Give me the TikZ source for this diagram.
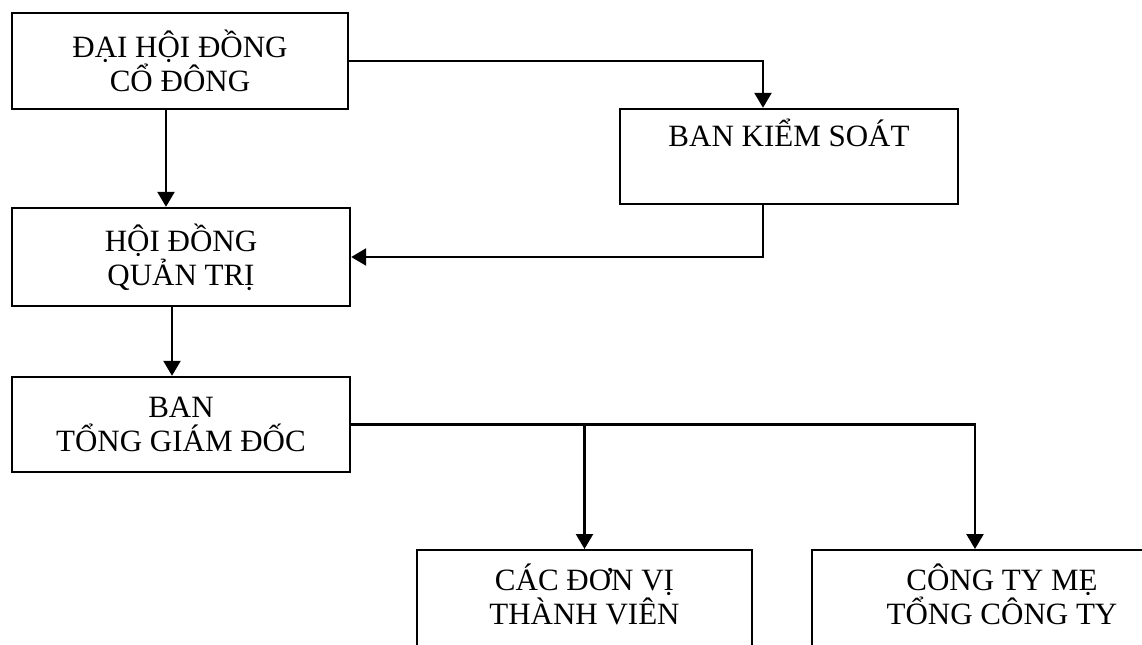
\documentclass[tikz,border=0pt]{standalone}
\usepackage{fontspec}
\setmainfont{Liberation Serif}
\usepackage{tikz}
\usetikzlibrary{arrows.meta, positioning, calc}

\begin{document}
\begin{tikzpicture}[
    x=0.5pt, y=-0.5pt,
    block/.style={rectangle, draw, line width=1.2pt, align=center, inner sep=0pt,
        font=\fontsize{15.5}{17}\selectfont},
    openblock/.style={block, anchor=north, inner ysep=7pt, text depth=70pt},
    arrow/.style={-{Triangle[length=7.5pt, width=8.5pt]}, line width=1.2pt}
]
    \useasboundingbox (0,0) rectangle (1142,644);
    \clip (0,0) rectangle (1142,644);

    % Main blocks
    \node[block, minimum width=168pt, minimum height=48pt] (dhcd) at (180,61) {ĐẠI HỘI ĐỒNG\\CỔ ĐÔNG};
    \node[block, minimum width=169pt, minimum height=47.5pt] (bks) at (789,156.5) {BAN KIỂM SOÁT\\[7pt]~};
    \node[block, minimum width=169pt, minimum height=49pt] (hdqt) at (181,257) {HỘI ĐỒNG\\QUẢN TRỊ};
    \node[block, minimum width=169pt, minimum height=47.5pt] (btgd) at (181,424.5) {BAN\\TỔNG GIÁM ĐỐC};
    \node[openblock, minimum width=167.5pt] (dvtv) at (584.5,549) {CÁC ĐƠN VỊ\\THÀNH VIÊN};
    \node[openblock, minimum width=190pt] (ctm) at (1002,549) {CÔNG TY MẸ\\TỔNG CÔNG TY};

    % Arrows
    \draw[arrow] ([xshift=-7pt]dhcd.south) -- ([xshift=-7pt]dhcd.south |- hdqt.north);
    \draw[arrow] (dhcd.east) -| ([xshift=-13pt]bks.north);
    \draw[arrow] ([xshift=-13pt]bks.south) |- (hdqt.east);
    \draw[arrow] ([xshift=-4.5pt]hdqt.south) -- ([xshift=-4.5pt]btgd.north);
    \draw[arrow] (btgd.east) -| (dvtv.north);
    \draw[arrow] (btgd.east) -| ([xshift=-13.5pt]ctm.north);

\end{tikzpicture}
\end{document}
